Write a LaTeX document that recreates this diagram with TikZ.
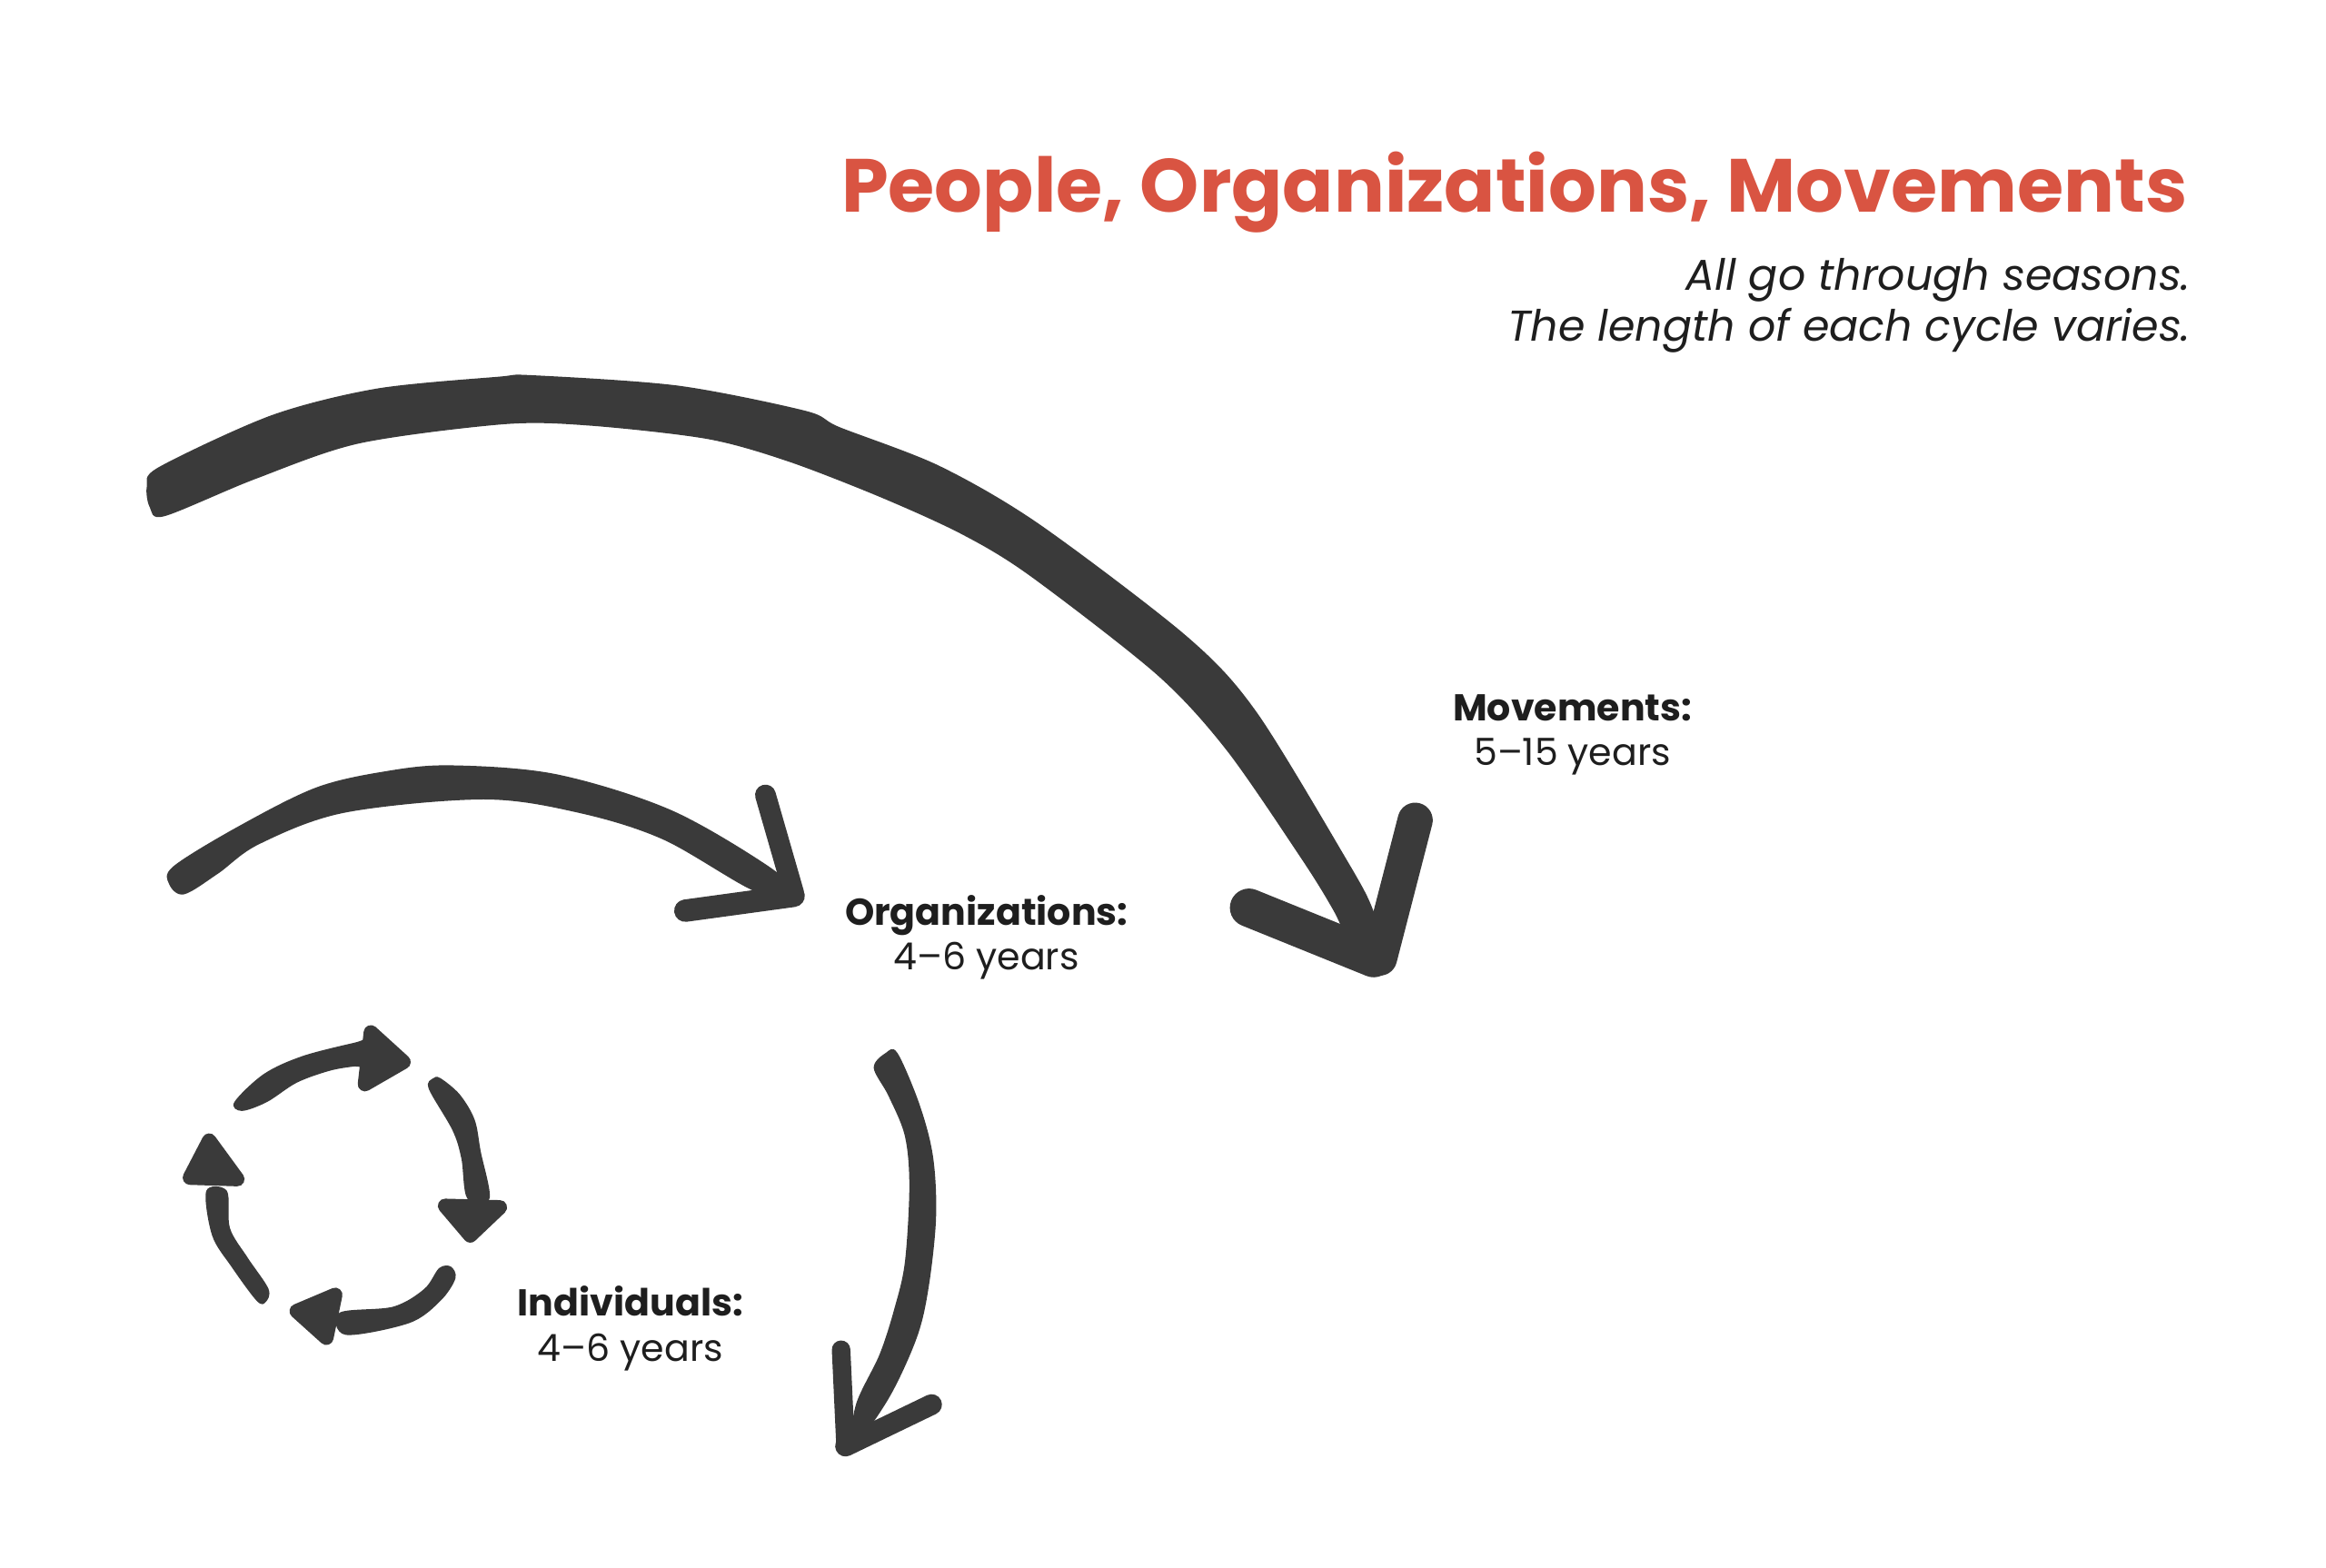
\documentclass[tikz,border=0pt]{standalone}
\usepackage{fontspec}
\setmainfont{Poppins}
\definecolor{ink}{HTML}{3A3A3A}
\definecolor{titlered}{HTML}{D95442}
\definecolor{txt}{HTML}{1E1E1E}
\begin{document}
\begin{tikzpicture}[x=0.016327cm,y=-0.016327cm,
  barb/.style={draw=ink,line cap=round,line join=round},
  tiphead/.style={fill=ink,draw=ink,line width=4.5pt,line join=round},
  lab/.style={anchor=base,text=txt,font=\fontsize{11.7}{14}\selectfont,inner sep=0pt},
  labb/.style={lab,font=\fontsize{11.7}{14}\selectfont\bfseries},
  sub/.style={anchor=base east,text=txt,font=\fontsize{13.5}{16}\selectfont\itshape,inner sep=0pt}]
\useasboundingbox (0,0) rectangle (1568,1057);
\fill[white] (0,0) rectangle (1568,1057);

% title and subtitle
\node[anchor=base east,text=titlered,font=\fontsize{23.6}{28}\selectfont\bfseries,inner sep=0pt] (title) at (1475,143) {People, Organizations, Movements};
\node[sub] (sub1) at (1477,196) {All go through seasons.};
\node[sub] (sub2) at (1477,230) {The length of each cycle varies.};

% Movements arrow
\fill[ink] plot[smooth cycle,tension=0.5] coordinates {(99,328)(107,315)(183,280)(254,262)(336,254)(359,253)(457,260)(543,277)(566,288)(633,314)(700,353)(800,429)(847,480)(908,580)(925,612)(932,640)(915,645)(899,614)(878,580)(827,506)(780,455)(694,388)(648,360)(593,335)(531,311)(477,296)(398,287)(340,286)(242,299)(172,323)(111,348)(101,342)};
\draw[barb,line width=11pt] (930,646) -- (954,553);
\draw[barb,line width=12pt] (842,612) -- (926,646);

% Organizations arrow
\fill[ink] plot[smooth cycle,tension=0.55] coordinates {(117,584)(161,557)(213,531)(260,520)(304,516)(375,522)(452,546)(518,584)(532,600)(509,601)(447,566)(390,548)(326,539)(232,548)(175,569)(147,589)(124,603)(114,596)};
\draw[barb,line width=6.5pt] (535,602) -- (516,536);
\draw[barb,line width=7pt] (535,604) -- (462,614);

% Down arrow
\fill[ink] plot[smooth cycle,tension=0.55] coordinates {(589,720)(597,710)(605,710)(620,745)(629,780)(631,821)(626,868)(618,902)(599,943)(575,975)(577,947)(593,913)(603,882)(610,851)(613,800)(610,766)(599,739)};
\draw[barb,line width=5.8pt] (570,975) -- (567,910);
\draw[barb,line width=6.5pt] (570,975) -- (628,947);

% Individuals cycle
\fill[ink] plot[smooth cycle,tension=0.55] coordinates {(158,743)(178,724)(204,712)(239,703)(247,702)(247,719)(239,719)(222,722)(200,730)(180,743)(163,749)};
\filldraw[tiphead] (250,696) -- (272,716) -- (246,731) -- cycle;
\fill[ink] plot[smooth cycle,tension=0.55] coordinates {(289,734)(292,727)(297,727)(310,738)(320,755)(324,776)(330,808)(315,808)(311,781)(305,762)};
\filldraw[tiphead] (300,813) -- (337,814) -- (317,833) -- cycle;
\fill[ink] plot[smooth cycle,tension=0.55] coordinates {(304,854)(307,862)(297,877)(276,892)(233,900)(229,885)(265,881)(286,869)(296,855)};
\filldraw[tiphead] (226,873) -- (200,884) -- (220,902) -- cycle;
\fill[ink] plot[smooth cycle,tension=0.55] coordinates {(173,877)(156,854)(143,833)(139,803)(153,803)(155,828)(167,848)(181,869)(179,878)};
\filldraw[tiphead] (141,769) -- (128,794) -- (160,795) -- cycle;

% labels
\node[labb] (movT) at (1060,486) {Movements:};
\node[lab] (movY) at (1060,516) {5–15 years};
\node[labb] (orgT) at (665,624) {Organizations:};
\node[lab] (orgY) at (665,654) {4–6 years};
\node[labb] (indT) at (425,887) {Individuals:};
\node[lab] (indY) at (425,918) {4–6 years};
\end{tikzpicture}
\end{document}
